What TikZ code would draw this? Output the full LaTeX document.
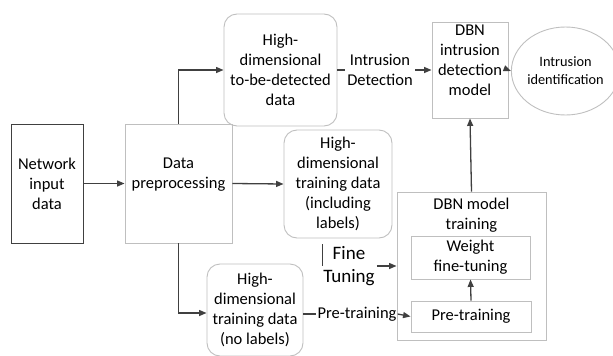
\documentclass[tikz,border=0pt]{standalone}
\usepackage{fontspec}
\setmainfont{Carlito}
\usetikzlibrary{arrows.meta,shapes.geometric}
\definecolor{dk}{HTML}{404040}
\definecolor{lt}{HTML}{BFBFBF}
\begin{document}
\begin{tikzpicture}[x=1pt,y=-1pt,
  every node/.style={font=\fontsize{16.5}{20}\selectfont, text=black, align=center, inner sep=0pt},
  darkbox/.style={draw=dk, line width=0.9pt, rectangle},
  lightbox/.style={draw=lt, line width=0.9pt, rectangle},
  roundbox/.style={draw=lt, line width=0.9pt, rectangle, rounded corners=13pt},
  conn/.style={draw=dk, line width=1.3pt},
  arr/.style={conn, -{Triangle[length=7.5pt,width=6pt]}}]
\useasboundingbox (0,0) rectangle (613,356);
% nodes
\node[darkbox, minimum width=72pt, minimum height=119pt] (net) at (47,183.5) {Network\\input\\data};
\node[lightbox, minimum width=107pt, minimum height=119pt] (pre) at (178.5,183.5) {Data\\preprocessing\\\mbox{}};
\node[roundbox, minimum width=113pt, minimum height=112pt] (det) at (280.5,70) {High-\\dimensional\\to-be-detected\\data};
\node[roundbox, minimum width=108pt, minimum height=108pt] (lab) at (338,184) {High-\\dimensional\\training data\\(including\\labels)};
\node[roundbox, minimum width=96pt, minimum height=92pt] (nol) at (255,310) {High-\\dimensional\\training data\\(no labels)};
\node[lightbox, minimum width=76pt, minimum height=96pt] (dbn) at (470,70) {DBN\\intrusion\\detection\\model\\\mbox{}};
\node[draw=lt, line width=0.9pt, ellipse, minimum width=95pt, minimum height=88pt, font=\fontsize{14.3}{18}\selectfont] (ell) at (565.5,71) {Intrusion\\identification};
\node[lightbox, minimum width=149pt, minimum height=148pt] (train) at (471.5,266) {};
\node (trainlbl) at (471.5,215) {DBN model\\training};
\node[lightbox, minimum width=119pt, minimum height=43pt] (wft) at (470.5,257.5) {Weight\\fine-tuning};
\node[lightbox, minimum width=120pt, minimum height=31pt] (ptr) at (471,316.5) {Pre-training};
% labels on connectors
\node[inner xsep=2.5pt] (idlbl) at (380,70) {Intrusion\\Detection};
\node[inner xsep=1pt] (ptlbl) at (357,314) {Pre-training};
\node[font=\fontsize{19}{23}\selectfont, inner xsep=2pt] (ftlbl) at (349,266) {Fine\\Tuning};
\coordinate (ftA) at (322,244);
\coordinate (ftB) at (322,266);
% connectors
\draw[arr] (net.east) -- (pre.west);
\draw[arr] (pre.north) |- (det.west);
\draw[arr] (pre.east) -- (lab.west);
\draw[arr] (pre.south) |- ([yshift=-3pt]nol.west);
\draw[conn] (det.east) -- (idlbl.west);
\draw[arr] (idlbl.east) -- (dbn.west);
\draw[arr] (dbn.east) -- (ell.west);
\draw[arr] (train.north) -- (dbn.south);
\draw[arr] (ptr.north) -- (wft.south);
\draw[conn] ([yshift=-4pt]nol.east) -- (ptlbl.west);
\draw[arr] (ptlbl.east) -- (ptr.west);
\draw[conn, line width=0.8pt] (ftA) -- (ftB);
\draw[arr] (ftlbl.east) -- (train.west);
\end{tikzpicture}
\end{document}
